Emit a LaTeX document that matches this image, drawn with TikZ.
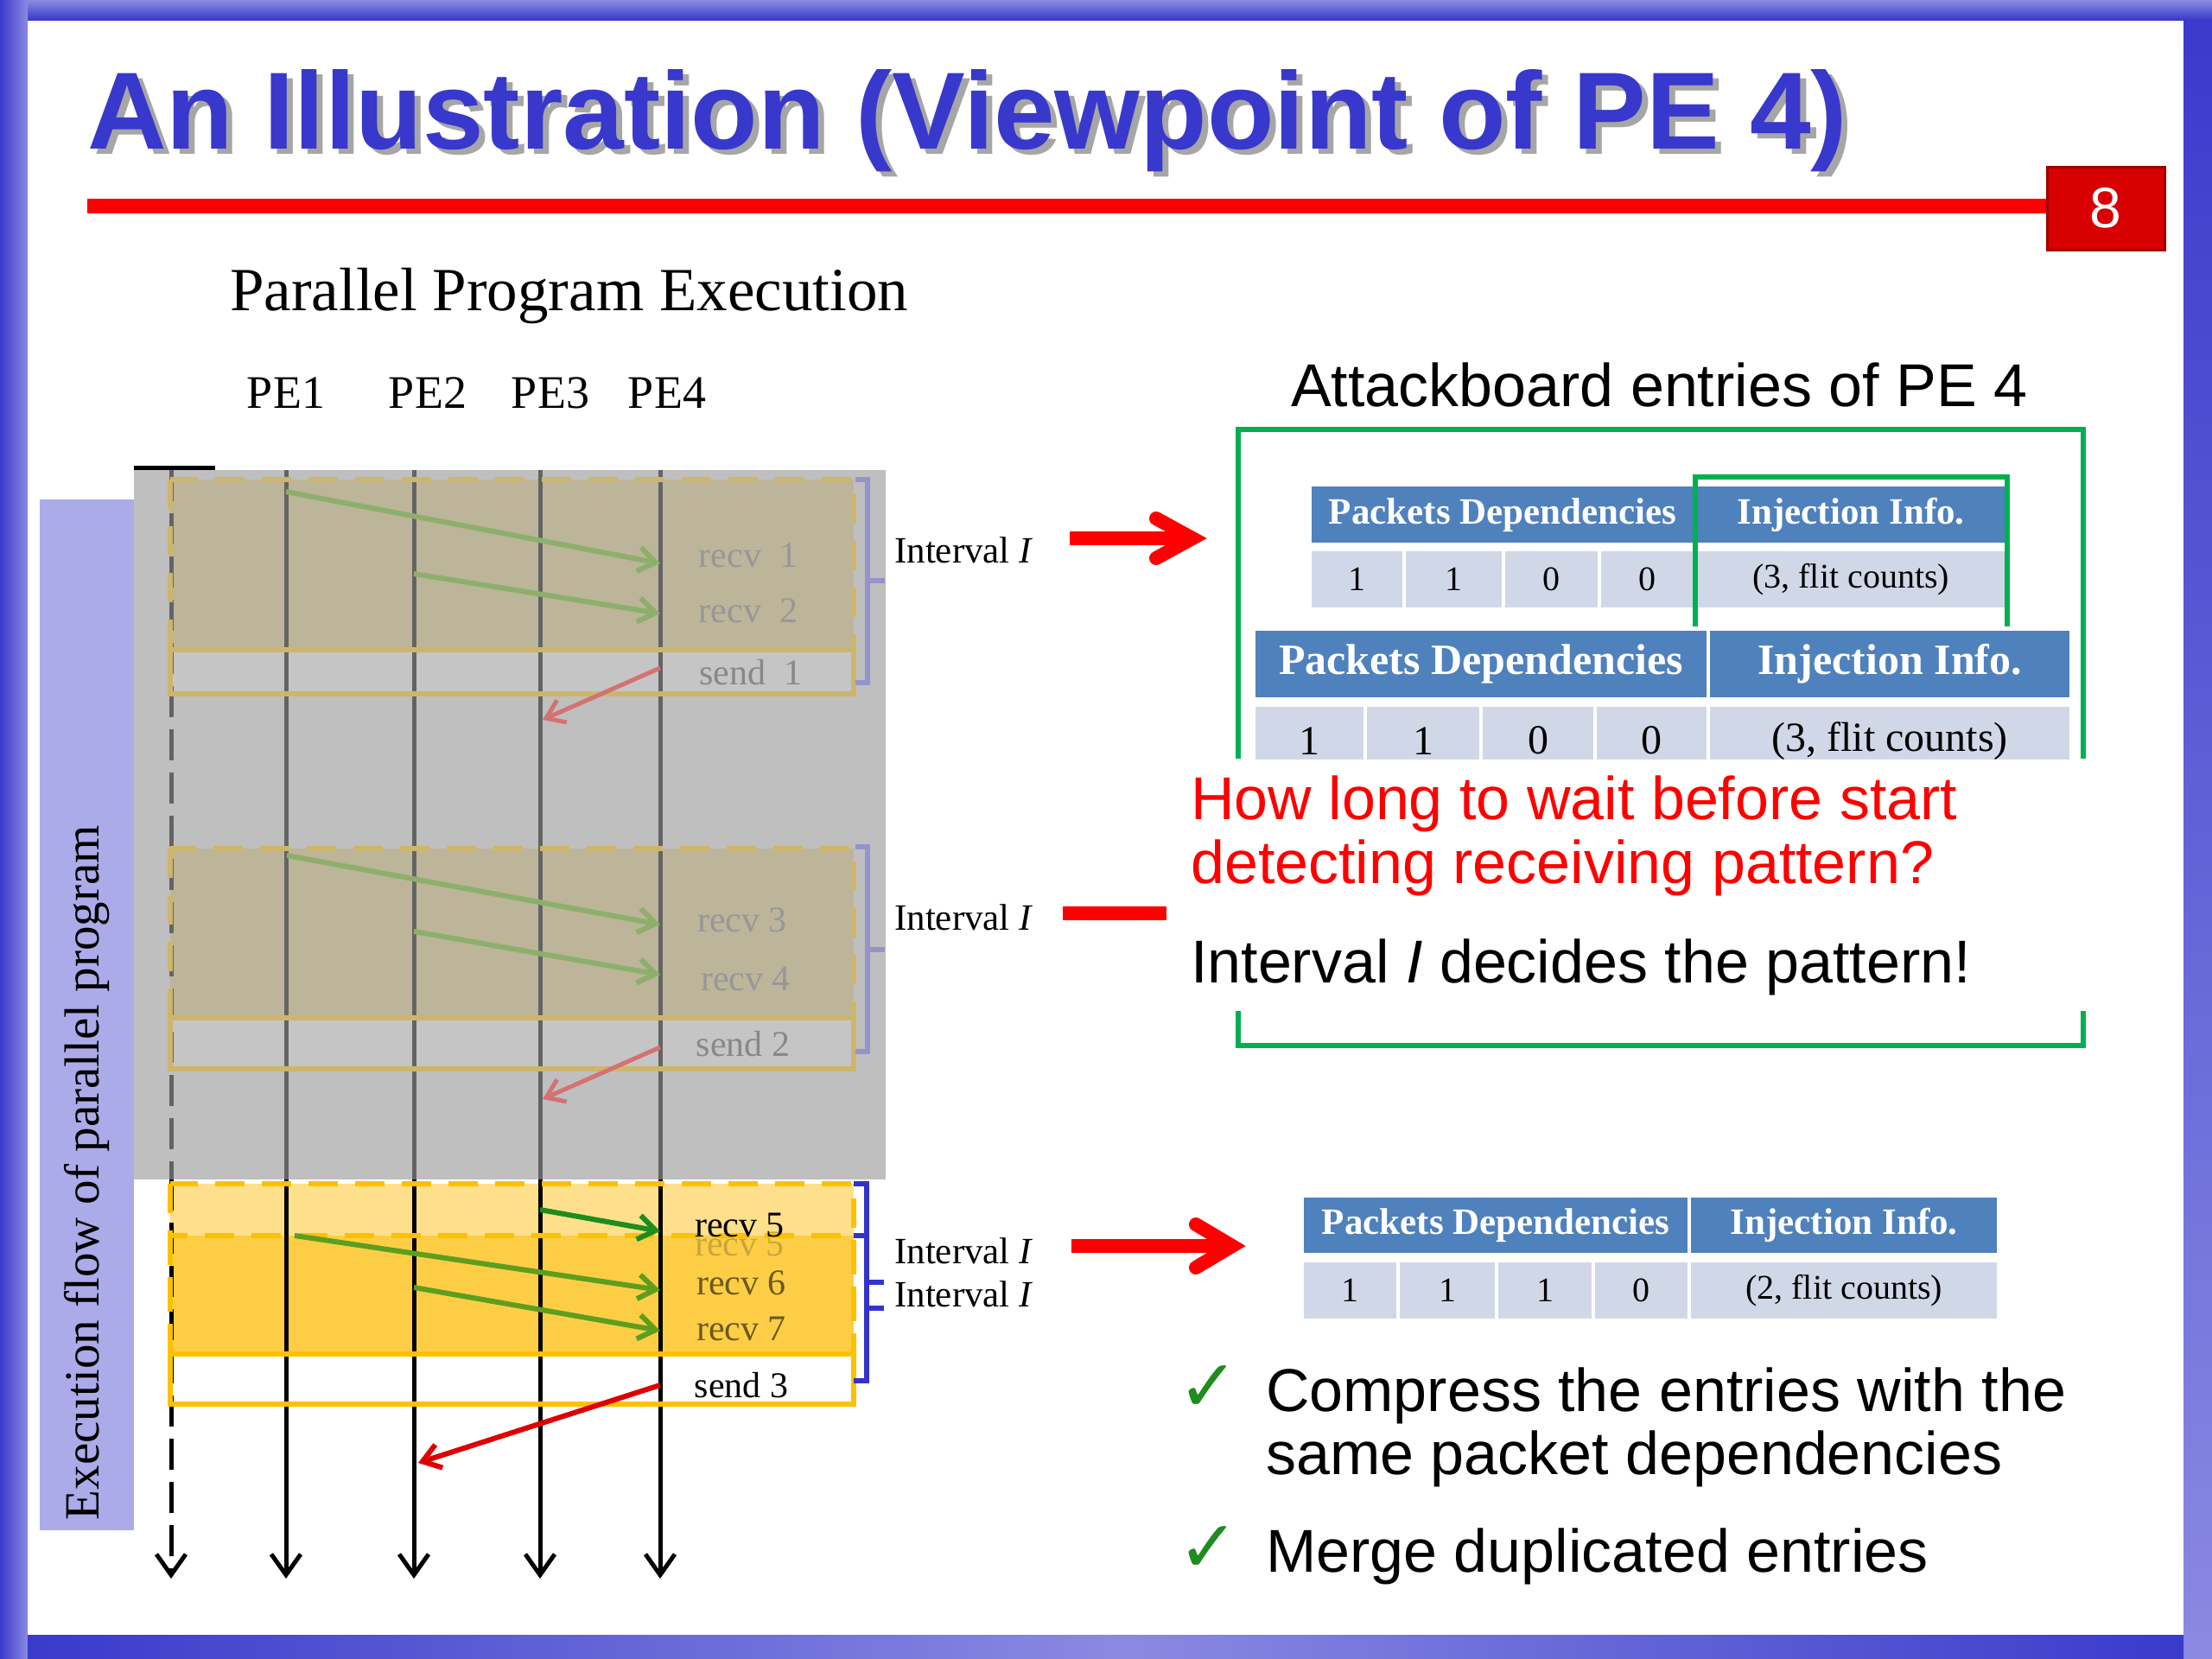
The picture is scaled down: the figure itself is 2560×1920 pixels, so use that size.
\documentclass[tikz,border=0pt]{standalone}
\usepackage{fontspec}
\setmainfont{Liberation Serif}
\newfontfamily\arial{Liberation Sans}
\newfontfamily\dejavu{DejaVu Sans}
\usetikzlibrary{arrows.meta}
\definecolor{barblue}{HTML}{3A3ACC}
\definecolor{barlight}{HTML}{8A8AE2}
\definecolor{titleblue}{HTML}{3838CC}
\definecolor{lav}{HTML}{ABABE9}
\definecolor{grayov}{HTML}{BFBFBF}
\definecolor{sendgray}{HTML}{C5C5C5}
\definecolor{tanfill}{HTML}{BCB59A}
\definecolor{tanedge}{HTML}{CDB66C}
\definecolor{fadeline}{HTML}{646464}
\definecolor{fadegreen}{HTML}{8EAF6B}
\definecolor{fadered}{HTML}{D47272}
\definecolor{fadetext}{HTML}{979797}
\definecolor{fadebrk}{HTML}{9494CC}
\definecolor{ylwedge}{HTML}{FFC000}
\definecolor{ylwpale}{HTML}{FEE08C}
\definecolor{ylwdeep}{HTML}{FDCE45}
\definecolor{ghost}{HTML}{C9A53A}
\definecolor{dgreen}{HTML}{1E8C1E}
\definecolor{ogreen}{HTML}{5E9E1E}
\definecolor{hdrblue}{HTML}{4F81BD}
\definecolor{rowblue}{HTML}{D0D8E8}
\definecolor{frgreen}{HTML}{00B050}
\definecolor{brkblue}{HTML}{3333CC}
\definecolor{recvbrown}{HTML}{6B5A20}
\definecolor{pagered}{HTML}{D80000}
\definecolor{pageedge}{HTML}{A00000}
\definecolor{ckgreen}{HTML}{1E8C1E}
\newcommand\setfs[1]{\fontsize{#1}{#1}\selectfont}
\newcommand\tcell[7]{%
  \pgfmathsetmacro\tcw{#4-#2}%
  \pgfmathsetmacro\tch{#5-#3}%
  \node[#6, minimum width=\tcw pt, minimum height=\tch pt, anchor=north west, inner sep=0pt] (#1) at (#2,#3) {#7};}
\begin{document}
\begin{tikzpicture}[x=1pt,y=-1pt,
  peline/.style={black, line width=5pt, -{Straight Barb[length=24pt,width=34pt]}},
  fadepe/.style={fadeline, line width=5pt},
  msg/.style={line width=6pt, -{Straight Barb[length=20pt,width=28pt]}},
  lbl/.style={inner sep=0pt, font=\setfs{42}},
  ivl/.style={inner sep=0pt, anchor=west, font=\setfs{43}},
  tanbox/.style={tanedge, line width=6pt, dash pattern=on 34pt off 20pt},
  tansolid/.style={tanedge, line width=6pt},
  ylwbox/.style={ylwedge, line width=6pt, dash pattern=on 34pt off 20pt},
  ylwsolid/.style={ylwedge, line width=6pt},
  brk/.style={line width=6pt, line join=miter},
  bigred/.style={red, line width=16pt},
  frame/.style={frgreen, line width=5.5pt},
  hdrA/.style={fill=hdrblue, text=white, font=\bfseries\setfs{43}},
  datA/.style={fill=rowblue, text=black, font=\setfs{40}},
  hdrB/.style={fill=hdrblue, text=white, font=\bfseries\setfs{50}},
  datB/.style={fill=rowblue, text=black, font=\setfs{48}},
  sans/.style={inner sep=0pt, anchor=base west, font=\arial\setfs{70}},
  check/.style={inner sep=0pt, text=ckgreen, font=\dejavu\setfs{84}}
]
\useasboundingbox (0,0) rectangle (2560,1920);
% background and bars
\fill[white] (0,0) rectangle (2560,1920);
\shade[top color=barlight, bottom color=barblue] (0,0) rectangle (2560,23);
\shade[left color=barblue, right color=barlight] (0,0) rectangle (32,1920);
\shade[top color=barblue, bottom color=barlight] (2527,23) rectangle (2560,1920);
\shade[left color=barblue, right color=barlight] (32,1892) rectangle (1300,1920);
\shade[left color=barlight, right color=barblue] (1300,1892) rectangle (2527,1920);
% title
\node[inner sep=0pt, anchor=base west, text=black!35, font=\arial\bfseries\setfs{127}] (titleshadow) at (108,178) {An Illustration (Viewpoint of PE 4)};
\node[inner sep=0pt, anchor=base west, text=titleblue, font=\arial\bfseries\setfs{127}] (title) at (101,172) {An Illustration (Viewpoint of PE 4)};
\fill[red] (101,230) rectangle (2369,247);
\node[fill=pagered, draw=pageedge, line width=3pt, minimum width=136pt, minimum height=96pt, inner sep=0pt, text=white, font=\arial\setfs{66}] (pgnum) at (2437,241) {8};
% left part headings
\node[inner sep=0pt, anchor=base west, font=\setfs{71}] (ppe) at (266,359) {Parallel Program Execution};
\node[inner sep=0pt, anchor=base, font=\setfs{54}] (pe1lab) at (331,472) {PE1};
\node[inner sep=0pt, anchor=base, font=\setfs{54}] (pe2lab) at (495,472) {PE2};
\node[inner sep=0pt, anchor=base, font=\setfs{54}] (pe3lab) at (637,472) {PE3};
\node[inner sep=0pt, anchor=base, font=\setfs{54}] (pe4lab) at (772,472) {PE4};
% lavender box with vertical text
\fill[lav] (46,578) rectangle (155,1771);
\node[inner sep=0pt, rotate=90, anchor=base, font=\setfs{57}] (flowtxt) at (114,1357) {Execution flow of parallel program};
% gray faded area
\fill[grayov] (155,544) rectangle (1025,1365);
\draw[black, line width=5pt] (155,541) -- (249,541);
% interval fills
\fill[tanfill] (197,555) rectangle (988,752);
\fill[sendgray] (197,752) rectangle (988,803);
\fill[tanfill] (197,982) rectangle (988,1178);
\fill[sendgray] (197,1178) rectangle (988,1237);
\fill[ylwpale] (197,1370) rectangle (988,1430);
\fill[ylwdeep] (197,1430) rectangle (988,1567);
\fill[white] (197,1567) rectangle (988,1625);
\node[lbl, text=ghost] (ghost5) at (856,1440) {recv 5};
% PE lines
\foreach \n/\x in {0/198,1/331,2/479,3/625,4/764}{
  \coordinate (t\n) at (\x,544);
  \coordinate (m\n) at (\x,1365);
  \coordinate (b\n) at (\x,1827);
}
\foreach \n in {1,2,3,4}{ \draw[fadepe] (t\n) -- (m\n); }
\draw[fadepe, dash pattern=on 36pt off 14pt] (t0) -- (m0);
\foreach \n in {1,2,3,4}{ \draw[peline] (m\n) -- (b\n); }
\draw[peline, dash pattern=on 36pt off 14pt] (m0) -- (b0);
% interval borders
\draw[tanbox] (197,555) rectangle (988,752);
\draw[tansolid] (197,752) rectangle (988,803);
\draw[tanbox] (197,982) rectangle (988,1178);
\draw[tansolid] (197,1178) rectangle (988,1237);
\draw[ylwbox] (197,1370) rectangle (988,1567);
\draw[ylwbox] (197,1430) rectangle (988,1567);
\draw[ylwsolid] (197,1567) rectangle (988,1625);
% message arrows
\coordinate (g1s) at (331,569); \coordinate (g1e) at (764,652);
\coordinate (g2s) at (479,664); \coordinate (g2e) at (764,710);
\coordinate (r1s) at (764,773); \coordinate (r1e) at (628,833);
\coordinate (g3s) at (332,990); \coordinate (g3e) at (764,1070);
\coordinate (g4s) at (479,1078); \coordinate (g4e) at (764,1128);
\coordinate (r2s) at (764,1212); \coordinate (r2e) at (628,1272);
\coordinate (g5s) at (625,1400); \coordinate (g5e) at (764,1425);
\coordinate (g6s) at (341,1430); \coordinate (g6e) at (764,1493);
\coordinate (g7s) at (479,1490); \coordinate (g7e) at (764,1540);
\coordinate (r3s) at (764,1603); \coordinate (r3e) at (484,1693);
\draw[msg, fadegreen] (g1s) -- (g1e);
\draw[msg, fadegreen] (g2s) -- (g2e);
\draw[msg, fadered, line width=5pt] (r1s) -- (r1e);
\draw[msg, fadegreen] (g3s) -- (g3e);
\draw[msg, fadegreen] (g4s) -- (g4e);
\draw[msg, fadered, line width=5pt] (r2s) -- (r2e);
\draw[msg, dgreen] (g5s) -- (g5e);
\draw[msg, ogreen] (g6s) -- (g6e);
\draw[msg, ogreen] (g7s) -- (g7e);
\draw[msg, red!87!black] (r3s) -- (r3e);
% event labels
\node[lbl, text=fadetext] (recv1) at (866,643) {recv~~1};
\node[lbl, text=fadetext] (recv2) at (866,707) {recv~~2};
\node[lbl, text=fadetext!90!black] (send1) at (869,778) {send~~1};
\node[lbl, text=fadetext] (recv3) at (859,1065) {recv 3};
\node[lbl, text=fadetext] (recv4) at (863,1133) {recv 4};
\node[lbl, text=fadetext!90!black] (send2) at (860,1208) {send 2};
\node[lbl, text=black] (recv5) at (856,1418) {recv 5};
\node[lbl, text=recvbrown] (recv6) at (858,1485) {recv 6};
\node[lbl, text=recvbrown] (recv7) at (858,1538) {recv 7};
\node[lbl, text=black] (send3) at (858,1603) {send 3};
% brackets
\draw[brk, fadebrk] (990,555) -- (1004,555) -- (1004,790) -- (990,790);
\draw[brk, fadebrk] (1004,672) -- (1024,672);
\draw[brk, fadebrk] (990,980) -- (1004,980) -- (1004,1217) -- (990,1217);
\draw[brk, fadebrk] (1004,1099) -- (1024,1099);
\draw[brk, brkblue] (988,1370) -- (1003,1370) -- (1003,1598) -- (988,1598);
\draw[brk, brkblue] (988,1430) -- (1003,1430);
\draw[brk, brkblue] (1003,1484) -- (1023,1484);
\draw[brk, brkblue] (1003,1514) -- (1023,1514);
% interval labels
\node[ivl] (iv1) at (1035,637) {Interval \textit{I}};
\node[ivl] (iv2) at (1035,1062) {Interval \textit{I}};
\node[ivl] (iv3) at (1035,1448) {Interval \textit{I}};
\node[ivl] (iv4) at (1035,1498) {Interval \textit{I}};
% big red arrows
\coordinate (ra1s) at (1238,623); \coordinate (ra1e) at (1380,623);
\draw[bigred] (ra1s) -- (1372,623);
\draw[bigred, line cap=round, line join=miter] (1338,600) -- (ra1e) -- (1338,646);
\coordinate (ra2s) at (1230,1057); \coordinate (ra2e) at (1350,1057);
\draw[bigred] (ra2s) -- (ra2e);
\coordinate (ra3s) at (1240,1442); \coordinate (ra3e) at (1426,1442);
\draw[bigred] (ra3s) -- (1418,1442);
\draw[bigred, line cap=round, line join=miter] (1384,1417) -- (ra3e) -- (1384,1467);
% right headings
\node[sans] (abtitle) at (1494,470) {Attackboard entries of PE 4};
% table 1
\tcell{t1h1}{1518}{563}{1960}{628}{hdrA}{Packets Dependencies}
\tcell{t1h2}{1964}{563}{2320}{628}{hdrA}{Injection Info.}
\tcell{t1d1}{1518}{638}{1623}{703}{datA}{1}
\tcell{t1d2}{1627}{638}{1738}{703}{datA}{1}
\tcell{t1d3}{1742}{638}{1849}{703}{datA}{0}
\tcell{t1d4}{1853}{638}{1960}{703}{datA}{0}
\tcell{t1d5}{1964}{638}{2320}{703}{datA}{(3, flit counts)}
% table 2 (its data row is cut off at the bottom)
\tcell{t2h1}{1453}{730}{1975}{807}{hdrB}{Packets Dependencies}
\tcell{t2h2}{1979}{730}{2395}{807}{hdrB}{Injection Info.}
\tcell{t2d1}{1453}{818}{1578}{896}{datB}{1}
\tcell{t2d2}{1582}{818}{1712}{896}{datB}{1}
\tcell{t2d3}{1716}{818}{1844}{896}{datB}{0}
\tcell{t2d4}{1848}{818}{1975}{896}{datB}{0}
\tcell{t2d5}{1979}{818}{2395}{896}{datB}{(3, flit counts)}
\fill[white] (1440,879) rectangle (2405,900);
% green frames
\draw[frame] (1433,878) -- (1433,497) -- (2411,497) -- (2411,878);
\draw[frame] (1433,1170) -- (1433,1210) -- (2411,1210) -- (2411,1170);
\draw[frame] (1962,725) -- (1962,552) -- (2323,552) -- (2323,725);
% texts in frame
\node[sans, text=red] (q1) at (1378,948) {How long to wait before start};
\node[sans, text=red] (q2) at (1378,1022) {detecting receiving pattern?};
\node[sans] (ans) at (1378,1137) {Interval \textit{I} decides the pattern!};
% table 3
\tcell{t3h1}{1509}{1386}{1953}{1450}{hdrA}{Packets Dependencies}
\tcell{t3h2}{1957}{1386}{2311}{1450}{hdrA}{Injection Info.}
\tcell{t3d1}{1509}{1461}{1616}{1526}{datA}{1}
\tcell{t3d2}{1620}{1461}{1730}{1526}{datA}{1}
\tcell{t3d3}{1734}{1461}{1842}{1526}{datA}{1}
\tcell{t3d4}{1846}{1461}{1953}{1526}{datA}{0}
\tcell{t3d5}{1957}{1461}{2311}{1526}{datA}{(2, flit counts)}
% bullets
\node[check] (ck1) at (1399,1607) {✓};
\node[sans] (b1a) at (1465,1633) {Compress the entries with the};
\node[sans] (b1b) at (1465,1706) {same packet dependencies};
\node[check] (ck2) at (1399,1793) {✓};
\node[sans] (b2) at (1465,1819) {Merge duplicated entries};
\end{tikzpicture}
\end{document}
